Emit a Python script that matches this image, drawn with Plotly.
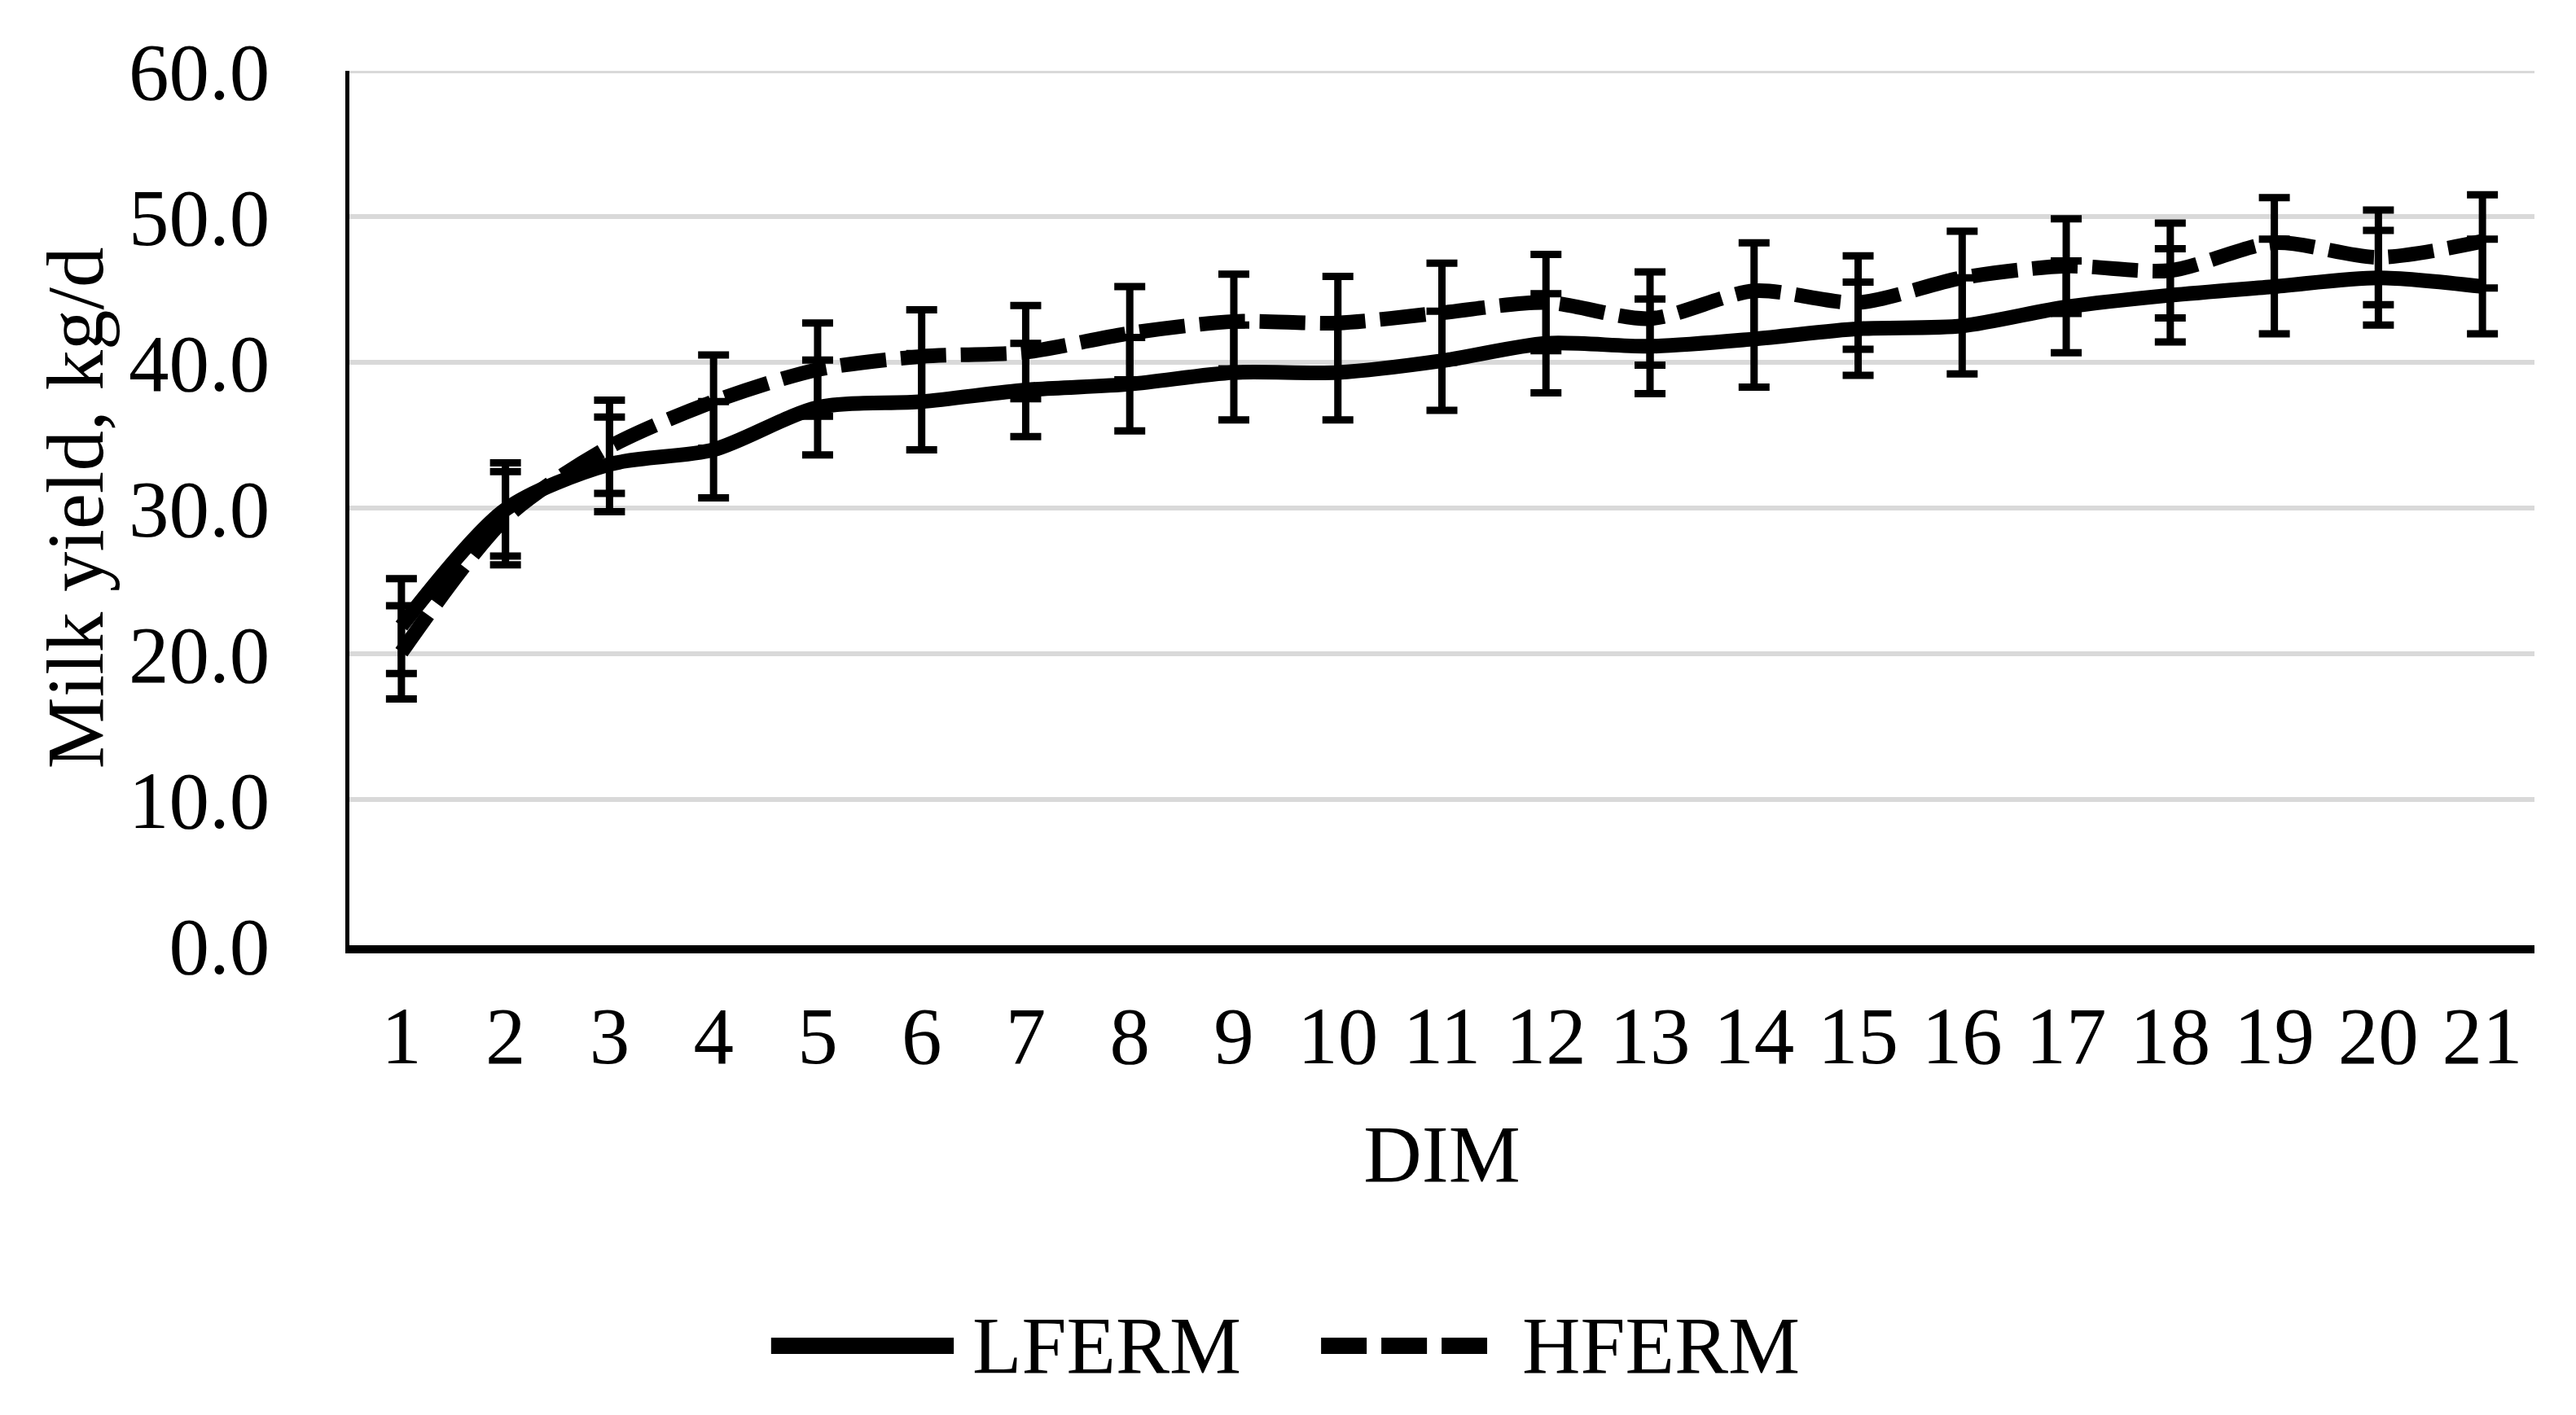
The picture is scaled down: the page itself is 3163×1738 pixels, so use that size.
import plotly.graph_objects as go

# Milk yield by days in milk (DIM), means and error bars
dim = list(range(1, 22))

lferm = [21.9, 29.9, 33.0, 34.0, 36.9, 37.3, 38.1, 38.5, 39.3, 39.3, 40.1,
         41.3, 41.1, 41.6, 42.3, 42.5, 43.8, 44.6, 45.2, 45.8, 45.2]
lferm_err = [3.25, 3.2, 3.25, 3.3, 3.25, 3.3, 3.2, 3.2, 3.25, 3.25, 3.4,
             3.4, 3.25, 3.3, 3.2, 3.3, 3.15, 3.2, 3.25, 3.25, 3.25]

hferm = [20.1, 29.3, 34.2, 37.3, 39.5, 40.4, 40.7, 42.0, 42.8, 42.7, 43.4,
         44.1, 43.0, 44.9, 44.1, 45.8, 46.6, 46.3, 48.2, 47.2, 48.3]
hferm_err = [3.2, 3.2, 3.2, 3.2, 3.2, 3.2, 3.2, 3.2, 3.25, 3.2, 3.4,
             3.3, 3.2, 3.3, 3.2, 3.2, 3.25, 3.25, 3.1, 3.25, 3.2]

y_ticks = [0, 10, 20, 30, 40, 50, 60]

FONT = "Liberation Serif"
FS = 99

fig = go.Figure()

fig.add_trace(go.Scatter(
    x=dim, y=lferm, name="LFERM", mode="lines",
    line=dict(color="black", width=18, shape="spline", smoothing=0.8),
    error_y=dict(type="data", array=lferm_err, visible=True,
                 color="black", thickness=9, width=19),
))

fig.add_trace(go.Scatter(
    x=dim, y=hferm, name="HFERM", mode="lines",
    line=dict(color="black", width=18, dash="56px,18px", shape="spline", smoothing=0.8),
    error_y=dict(type="data", array=hferm_err, visible=True,
                 color="black", thickness=9, width=19),
))

# plotly drops the gridline sitting on the top edge, so draw that one
fig.add_shape(type="line", xref="x domain", yref="y", x0=0, x1=1,
              y0=y_ticks[-1], y1=y_ticks[-1], layer="below",
              line=dict(color="#d9d9d9", width=6))

# legend drawn by hand so the keys are as long as in the original
leg_y = -0.458
fig.add_shape(type="line", xref="paper", yref="paper", x0=0.193, x1=0.2766,
              y0=leg_y, y1=leg_y, line=dict(color="black", width=20))
fig.add_shape(type="line", xref="paper", yref="paper", x0=0.4447, x1=0.5207,
              y0=leg_y, y1=leg_y, line=dict(color="black", width=20, dash="56px,18px"))
fig.add_annotation(text="LFERM", xref="paper", yref="paper", x=0.2844, y=leg_y,
                   xanchor="left", yanchor="middle", showarrow=False,
                   font=dict(family=FONT, size=FS, color="black"))
fig.add_annotation(text="HFERM", xref="paper", yref="paper", x=0.536, y=leg_y,
                   xanchor="left", yanchor="middle", showarrow=False,
                   font=dict(family=FONT, size=FS, color="black"))

fig.update_layout(
    width=3163, height=1738,
    margin=dict(l=421, r=59, t=79, b=585),
    paper_bgcolor="white", plot_bgcolor="white",
    font=dict(family=FONT, size=FS, color="black"),
    showlegend=False,
)

fig.update_xaxes(
    range=[0.5, 21.5], tickvals=dim, ticktext=[str(d) for d in dim],
    showgrid=False, zeroline=False,
    showline=True, linecolor="black", linewidth=10,
    ticks="", ticklabelstandoff=16,
    title=dict(text="DIM", standoff=60, font=dict(family=FONT, size=FS)),
)

fig.update_yaxes(
    range=[0, 60], tickvals=y_ticks, tickformat=".1f",
    showgrid=True, gridcolor="#d9d9d9", gridwidth=6,
    zeroline=False,
    showline=True, linecolor="black", linewidth=5,
    ticks="", ticklabelstandoff=73,
    title=dict(text="Milk yield, kg/d", standoff=0, font=dict(family=FONT, size=FS)),
)

fig.write_html("out.html")
